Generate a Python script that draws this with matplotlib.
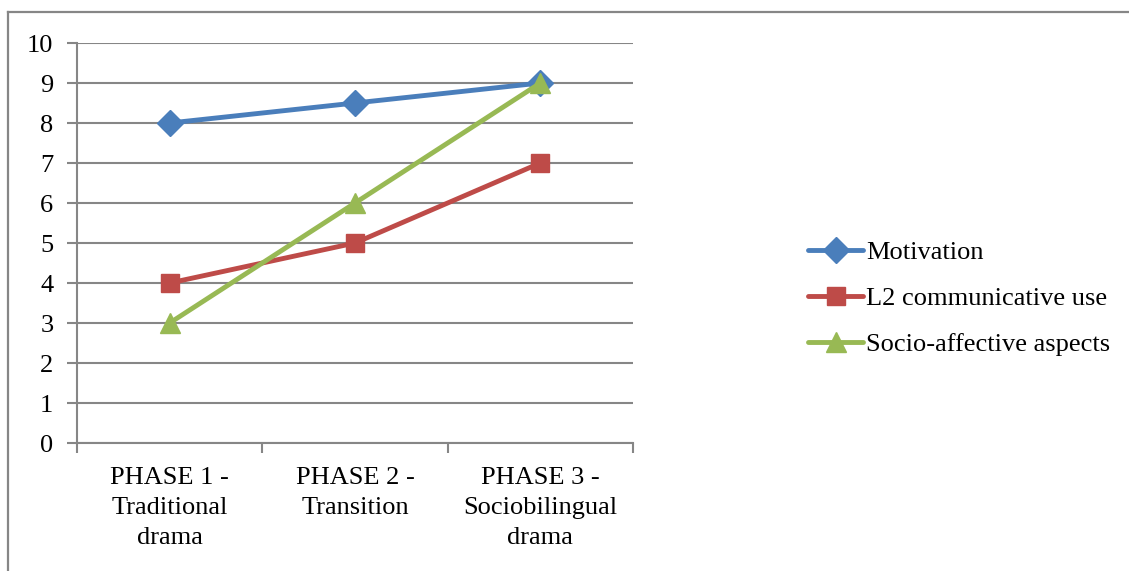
import matplotlib
matplotlib.use("Agg")
import matplotlib.pyplot as plt
from matplotlib.lines import Line2D

categories = ["PHASE 1 -\nTraditional\ndrama", "PHASE 2 -\nTransition", "PHASE 3 -\nSociobilingual\ndrama"]
series_names = ["Motivation", "L2 communicative use", "Socio-affective aspects"]
motivation = [8, 8.5, 9]
l2_use = [4, 5, 7]
socio_affective = [3, 6, 9]
y_ticks = list(range(0, 11))

colors = ["#4A7EBB", "#BE4B48", "#98B954"]
markers = ["D", "s", "^"]
marker_sizes = [13, 13, 15]
grid_color = "#868686"
fs = 19

plt.rcParams["font.family"] = ["Liberation Serif", "DejaVu Serif"]

W, H = 1129, 571
fig = plt.figure(figsize=(W / 100, H / 100), dpi=100)
fig.patch.set_facecolor("white")

# outer chart frame (top and left edges visible)
fig.add_artist(Line2D([8 / W, 1.0], [1 - 12 / H, 1 - 12 / H], color=grid_color, lw=1.6,
                      transform=fig.transFigure))
fig.add_artist(Line2D([8 / W, 8 / W], [1 - 12 / H, 0], color=grid_color, lw=1.6,
                      transform=fig.transFigure))

left, right, top, bottom = 77, 633, 43, 443
ax = fig.add_axes([left / W, 1 - bottom / H, (right - left) / W, (bottom - top) / H])

x = [1, 2, 3]
for vals, name, c, m, ms in zip([motivation, l2_use, socio_affective], series_names,
                                colors, markers, marker_sizes):
    ax.plot(x, vals, color=c, lw=3.5, marker=m, markersize=ms, markeredgecolor=c,
            markerfacecolor=c, label=name, zorder=3, clip_on=False,
            solid_capstyle="round", solid_joinstyle="round")

ax.set_xlim(0.5, 3.5)
ax.set_ylim(0, 10)
ax.set_yticks(y_ticks)
ax.set_yticklabels([str(v) for v in y_ticks], fontsize=fs)
ax.set_xticks(x)
ax.set_xticklabels(categories, fontsize=fs, linespacing=1.47)
ax.set_xticks([0.5, 1.5, 2.5, 3.5], minor=True)
ax.tick_params(axis="x", which="major", length=0, pad=17)
ax.tick_params(axis="x", which="minor", length=7, width=1.5, color=grid_color)
ax.tick_params(axis="y", length=7, width=1.5, color=grid_color, pad=10)

ax.grid(axis="y", color=grid_color, lw=1.5, zorder=0)
ax.set_axisbelow(True)
for side in ["top", "right"]:
    ax.spines[side].set_visible(False)
for side in ["left", "bottom"]:
    ax.spines[side].set_color(grid_color)
    ax.spines[side].set_linewidth(1.5)

leg = ax.legend(loc="upper left", bbox_to_anchor=(808 / W, 1 - 241 / H),
                bbox_transform=fig.transFigure, frameon=False, fontsize=fs,
                handlelength=2.1, handletextpad=0.1, labelspacing=0.85, borderpad=0,
                borderaxespad=0)

fig.savefig("out.png", dpi=100, facecolor="white")
